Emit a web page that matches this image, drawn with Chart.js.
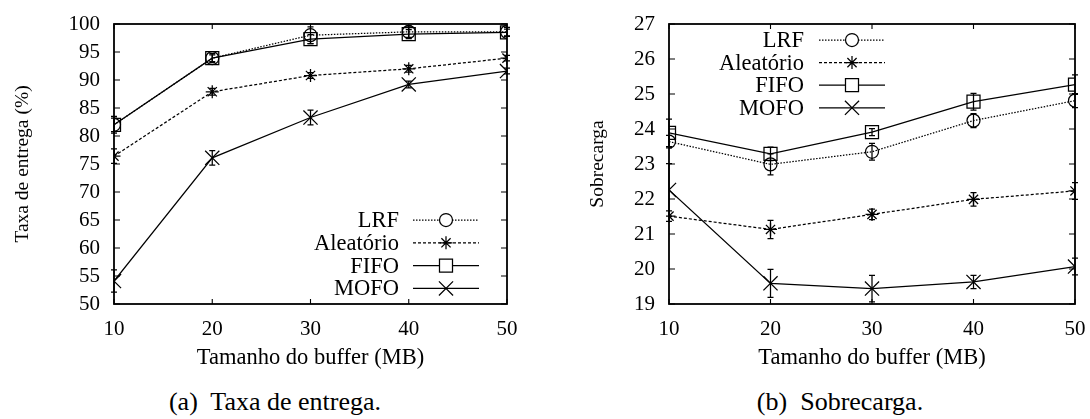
<!DOCTYPE html>
<html>
<head>
<meta charset="utf-8">
<script src="https://cdn.jsdelivr.net/npm/chart.js@4/dist/chart.umd.min.js"></script>
<style>
  html, body { margin: 0; padding: 0; background: #fff; }
  #page { position: relative; width: 1090px; height: 419px; overflow: hidden; font-family: "Liberation Serif", "Times New Roman", serif; color: #000; }
  .panel { position: absolute; top: 0; width: 545px; height: 380px; }
  .caption { position: absolute; top: 387px; font-size: 26px; line-height: 30px; white-space: pre; transform: translateX(-50%); }
</style>
</head>
<body>
<div id="page">
  <div class="panel" style="left:0"><canvas id="entrega" width="545" height="380"></canvas></div>
  <div class="panel" style="left:545px"><canvas id="sobrecarga" width="545" height="380"></canvas></div>
  <div class="caption" style="left:275px">(a)  Taxa de entrega.</div>
  <div class="caption" style="left:840px">(b)  Sobrecarga.</div>
</div>
<script>
// Buffer sizes (MB) on the horizontal axis
const bufferSizes = [10, 20, 30, 40, 50];
const seriesNames = ['LRF', 'Aleatório', 'FIFO', 'MOFO'];

// Delivery rate (%) with error half-widths
const entregaLRF       = [82.0, 93.9, 98.0, 98.6, 98.6];
const entregaAleatorio = [76.4, 87.9, 90.8, 92.0, 93.9];
const entregaFIFO      = [82.0, 93.9, 97.3, 98.2, 98.5];
const entregaMOFO      = [54.1, 76.1, 83.3, 89.2, 91.6];
const entregaErrLRF       = [1.5, 0.8, 1.5, 1.0, 0.8];
const entregaErrAleatorio = [1.3, 0.6, 0.5, 0.6, 0.5];
const entregaErrFIFO      = [1.2, 0.6, 0.8, 0.8, 0.6];
const entregaErrMOFO      = [2.0, 1.3, 1.3, 0.6, 0.5];
const entregaTicks = [50, 55, 60, 65, 70, 75, 80, 85, 90, 95, 100];

// Overhead with error half-widths
const sobrecargaLRF       = [23.64, 22.99, 23.35, 24.24, 24.81];
const sobrecargaAleatorio = [21.51, 21.13, 21.56, 21.99, 22.23];
const sobrecargaFIFO      = [23.89, 23.29, 23.91, 24.78, 25.27];
const sobrecargaMOFO      = [22.26, 19.59, 19.44, 19.63, 20.07];
const sobrecargaErrLRF       = [0.18, 0.30, 0.24, 0.20, 0.20];
const sobrecargaErrAleatorio = [0.15, 0.26, 0.15, 0.19, 0.24];
const sobrecargaErrFIFO      = [0.39, 0.19, 0.10, 0.24, 0.28];
const sobrecargaErrMOFO      = [0.75, 0.40, 0.38, 0.19, 0.24];
const sobrecargaTicks = [19, 20, 21, 22, 23, 24, 25, 26, 27];

const FONT = '"Liberation Serif", "Times New Roman", serif';
const LINE_W = 1.25;

// Line/marker look of each policy
const seriesStyle = {
  'LRF':       { dash: [1.5, 1.5], pointStyle: 'circle',   radius: 6.5 },
  'Aleatório': { dash: [3, 2],     pointStyle: 'star',     radius: 6.5 },
  'FIFO':      { dash: [],         pointStyle: 'rect',     radius: 9.2 },
  'MOFO':      { dash: [],         pointStyle: 'crossRot', radius: 10 }
};

function makeDataset(name, values, errors) {
  const st = seriesStyle[name];
  return {
    label: name,
    data: bufferSizes.map((x, i) => ({ x: x, y: values[i] })),
    errors: errors,
    borderColor: '#000',
    borderWidth: LINE_W,
    borderDash: st.dash,
    pointStyle: st.pointStyle,
    pointRadius: st.radius,
    pointBorderColor: '#000',
    pointBackgroundColor: 'rgba(0,0,0,0)',
    pointBorderWidth: LINE_W,
    fill: false,
    tension: 0
  };
}

// Marker drawn by hand for the key
function drawMarker(ctx, style, r, x, y) {
  ctx.beginPath();
  if (style === 'circle') {
    ctx.arc(x, y, r, 0, Math.PI * 2);
    ctx.fillStyle = '#fff';
    ctx.fill();
  } else if (style === 'rect') {
    const s = r * Math.SQRT1_2;
    ctx.rect(x - s, y - s, 2 * s, 2 * s);
    ctx.fillStyle = '#fff';
    ctx.fill();
  } else {
    const d = r * Math.SQRT1_2;
    if (style === 'star') {
      ctx.moveTo(x - r, y); ctx.lineTo(x + r, y);
      ctx.moveTo(x, y - r); ctx.lineTo(x, y + r);
    }
    ctx.moveTo(x - d, y - d); ctx.lineTo(x + d, y + d);
    ctx.moveTo(x - d, y + d); ctx.lineTo(x + d, y - d);
  }
  ctx.stroke();
}

// Frame with inward ticks on all four sides, error bars and the key
const framePlugin = {
  id: 'frameKey',
  afterDatasetsDraw(chart, args, opts) {
    const ctx = chart.ctx;
    const a = chart.chartArea;
    const xs = chart.scales.x, ys = chart.scales.y;
    ctx.save();

    // error bars
    ctx.strokeStyle = '#000';
    ctx.lineWidth = LINE_W;
    ctx.setLineDash([]);
    chart.data.datasets.forEach((ds, i) => {
      const meta = chart.getDatasetMeta(i);
      meta.data.forEach((el, j) => {
        const v = ds.data[j].y, e = ds.errors[j];
        const y1 = ys.getPixelForValue(v - e), y2 = ys.getPixelForValue(v + e);
        const x = el.x;
        ctx.beginPath();
        ctx.moveTo(x, y1); ctx.lineTo(x, y2);
        ctx.moveTo(x - 3, y1); ctx.lineTo(x + 3, y1);
        ctx.moveTo(x - 3, y2); ctx.lineTo(x + 3, y2);
        ctx.stroke();
      });
    });

    // frame
    ctx.lineWidth = 1.8;
    ctx.strokeRect(a.left, a.top, a.right - a.left, a.bottom - a.top);
    ctx.lineWidth = 1.1;
    ctx.beginPath();
    xs.ticks.forEach(t => {
      const px = xs.getPixelForValue(t.value);
      ctx.moveTo(px, a.bottom); ctx.lineTo(px, a.bottom - 5);
      ctx.moveTo(px, a.top); ctx.lineTo(px, a.top + 5);
    });
    ys.ticks.forEach(t => {
      const py = ys.getPixelForValue(t.value);
      ctx.moveTo(a.left, py); ctx.lineTo(a.left + 6, py);
      ctx.moveTo(a.right, py); ctx.lineTo(a.right - 6, py);
    });
    ctx.stroke();

    // key
    ctx.font = opts.fontSize + 'px ' + FONT;
    ctx.textAlign = 'right';
    ctx.textBaseline = 'middle';
    chart.data.datasets.forEach((ds, i) => {
      const y = opts.firstY + i * opts.rowGap;
      ctx.fillStyle = '#000';
      ctx.fillText(ds.label, opts.textRight, y + 1);
      ctx.lineWidth = LINE_W;
      ctx.setLineDash(ds.borderDash);
      ctx.beginPath();
      ctx.moveTo(opts.lineStart, y); ctx.lineTo(opts.lineEnd, y);
      ctx.stroke();
      ctx.setLineDash([]);
      drawMarker(ctx, ds.pointStyle, ds.pointRadius, (opts.lineStart + opts.lineEnd) / 2, y);
    });
    ctx.restore();
  }
};

function makeChart(id, cfg) {
  return new Chart(document.getElementById(id), {
    type: 'line',
    data: { datasets: cfg.datasets },
    plugins: [framePlugin],
    options: {
      responsive: false,
      animation: false,
      events: [],
      layout: { padding: { left: 0, right: cfg.padRight, top: 24, bottom: 0 } },
      plugins: {
        legend: { display: false },
        tooltip: { enabled: false },
        frameKey: cfg.key
      },
      scales: {
        x: {
          type: 'linear',
          min: 10, max: 50,
          afterBuildTicks(s) { s.ticks = bufferSizes.map(v => ({ value: v })); },
          afterFit(s) { s.height = 76; s.paddingLeft = 0; s.paddingRight = 0; },
          grid: { display: false, drawTicks: false },
          border: { display: false },
          ticks: { color: '#000', padding: 13, autoSkip: false, maxRotation: 0, font: { family: FONT, size: 21 } },
          title: { display: true, text: 'Tamanho do buffer (MB)', color: '#000',
                   font: { family: FONT, size: 22.5 }, padding: { top: 0, bottom: 8 } }
        },
        y: {
          type: 'linear',
          min: cfg.ticks[0], max: cfg.ticks[cfg.ticks.length - 1],
          afterBuildTicks(s) { s.ticks = cfg.ticks.map(v => ({ value: v })); },
          afterFit(s) { s.width = cfg.axisWidth; s.paddingTop = 0; s.paddingBottom = 0; },
          grid: { display: false, drawTicks: false },
          border: { display: false },
          ticks: { color: '#000', padding: 14, autoSkip: false, font: { family: FONT, size: 21 } },
          title: { display: true, text: cfg.yTitle, color: '#000',
                   font: { family: FONT, size: 19.5 }, padding: { top: cfg.yTitlePad, bottom: 0 } }
        }
      }
    }
  });
}

makeChart('entrega', {
  datasets: [
    makeDataset('LRF', entregaLRF, entregaErrLRF),
    makeDataset('Aleatório', entregaAleatorio, entregaErrAleatorio),
    makeDataset('FIFO', entregaFIFO, entregaErrFIFO),
    makeDataset('MOFO', entregaMOFO, entregaErrMOFO)
  ],
  ticks: entregaTicks,
  padRight: 38,
  axisWidth: 114,
  yTitle: 'Taxa de entrega (%)',
  yTitlePad: 11,
  key: { textRight: 399, lineStart: 413, lineEnd: 479, firstY: 220, rowGap: 22.8, fontSize: 22.5 }
});

makeChart('sobrecarga', {
  datasets: [
    makeDataset('LRF', sobrecargaLRF, sobrecargaErrLRF),
    makeDataset('Aleatório', sobrecargaAleatorio, sobrecargaErrAleatorio),
    makeDataset('FIFO', sobrecargaFIFO, sobrecargaErrFIFO),
    makeDataset('MOFO', sobrecargaMOFO, sobrecargaErrMOFO)
  ],
  ticks: sobrecargaTicks,
  padRight: 15,
  axisWidth: 124,
  yTitle: 'Sobrecarga',
  yTitlePad: 41,
  key: { textRight: 259, lineStart: 274, lineEnd: 340, firstY: 40, rowGap: 22.6, fontSize: 22.5 }
});
</script>
</body>
</html>
